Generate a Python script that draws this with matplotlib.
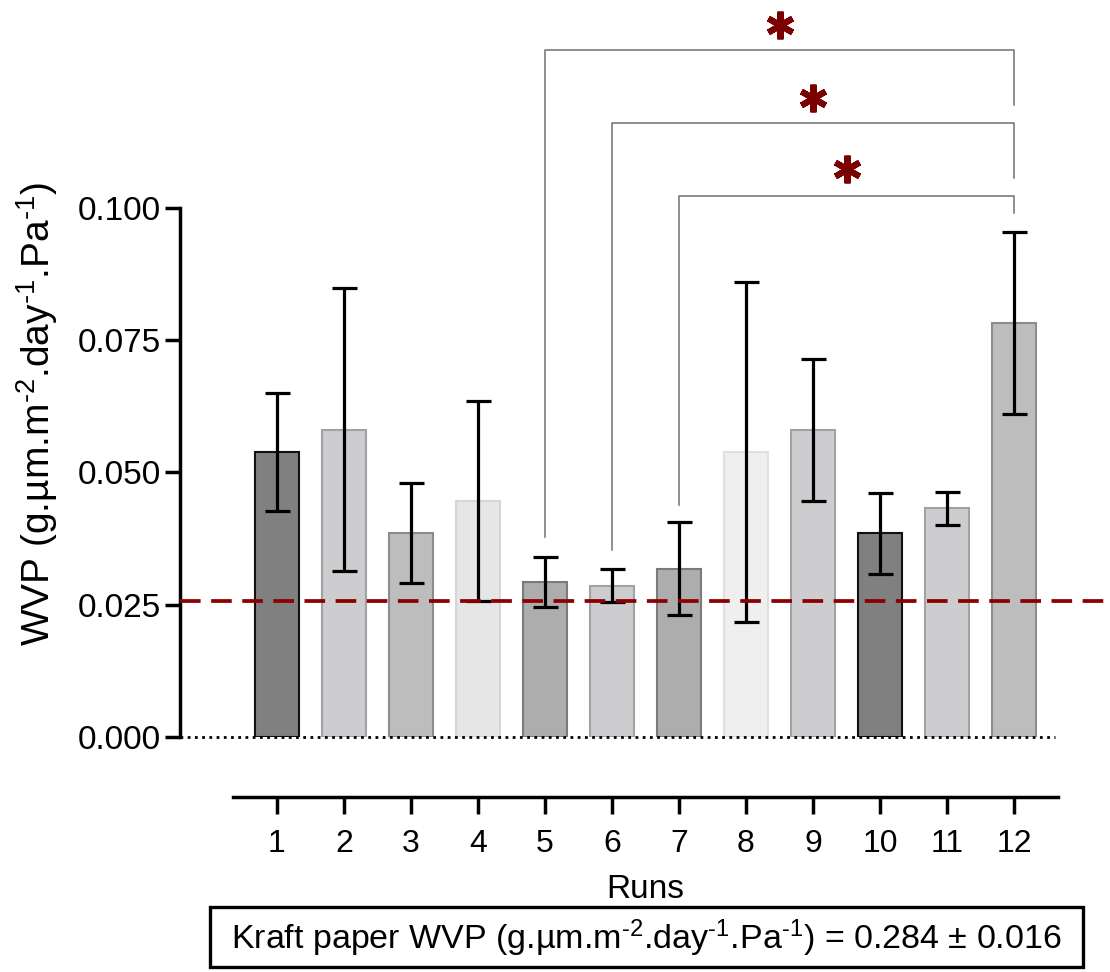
import matplotlib
matplotlib.use("Agg")
import matplotlib.pyplot as plt
from matplotlib.patches import Rectangle
import numpy as np

plt.rcParams['font.family'] = ['Liberation Sans', 'DejaVu Sans']
plt.rcParams['mathtext.fontset'] = 'custom'
plt.rcParams['mathtext.rm'] = 'Liberation Sans'
plt.rcParams['mathtext.it'] = 'Liberation Sans:italic'
plt.rcParams['mathtext.bf'] = 'Liberation Sans:bold'

# ---- data ----
runs = [1, 2, 3, 4, 5, 6, 7, 8, 9, 10, 11, 12]
run_labels = ["1", "2", "3", "4", "5", "6", "7", "8", "9", "10", "11", "12"]
wvp_mean = [0.0539, 0.0581, 0.0386, 0.0446, 0.0293, 0.0286, 0.0318, 0.0539, 0.0581, 0.0385, 0.0432, 0.0782]
wvp_err = [0.0111, 0.0268, 0.0094, 0.0189, 0.0048, 0.0031, 0.0088, 0.0322, 0.0134, 0.0076, 0.0032, 0.0172]
reference_wvp = 0.0258
comparisons = [(5, 12), (6, 12), (7, 12)]
comparison_marks = ["*", "*", "*"]
y_ticks = [0.000, 0.025, 0.050, 0.075, 0.100]
y_tick_labels = ["0.000", "0.025", "0.050", "0.075", "0.100"]

# ---- styles ----
fill_colors = ['#808080', '#cdcdcf', '#bdbdbd', '#e6e6e6', '#adadad', '#cdcdcf',
               '#adadad', '#efefef', '#cdcdcf', '#808080', '#cdcdcf', '#bdbdbd']
edge_colors = ['#111111', '#a2a2a4', '#8c8c8c', '#d6d6d6', '#7a7a7a', '#a2a2a4',
               '#7a7a7a', '#e0e0e0', '#a2a2a4', '#111111', '#a2a2a4', '#8c8c8c']
star_color = '#7b0000'

fig = plt.figure(figsize=(11.1, 9.72), dpi=100)
W, H = 1110, 972
ax = fig.add_axes([180 / W, (H - 737) / H, (W - 180) / W, 737 / H])

ppu_y = 5290.0  # pixels per unit
ax.set_ylim(0, 737 / ppu_y)
ax.set_xlim(1 + (180 - 277) / 67.0, 1 + (1110 - 277) / 67.0)

ax.bar(runs, wvp_mean, width=0.65, color=fill_colors, edgecolor=edge_colors,
       linewidth=1.5, zorder=2)
ax.errorbar(runs, wvp_mean, yerr=wvp_err, fmt='none', ecolor='black',
            elinewidth=2.3, capsize=9, capthick=2.3, zorder=3)

# baseline dotted line
ax.plot([ax.get_xlim()[0], 12.61], [0, 0], color='black', linestyle=(0, (1, 1.6)),
        linewidth=2.0, zorder=4, clip_on=False)

# reference dashed line
ax.axhline(reference_wvp, color='#8b0000', linestyle=(0, (5.5, 2.8)), linewidth=2.7,
           zorder=5)

# significance brackets
bracket_tops = [0.1299, 0.1161, 0.1023]
left_ends = [0.0378, 0.0354, 0.0439]
right_ends = [0.1195, 0.1057, 0.0990]
star_y = [0.1346, 0.1208, 0.1073]
for (a, b), mark, top, le, re_, sy in zip(comparisons, comparison_marks,
                                          bracket_tops, left_ends, right_ends, star_y):
    ax.plot([a, a, b, b], [le, top, top, re_], color='#707070', linewidth=1.1,
            zorder=3, clip_on=False)
    ax.plot([(a + b) / 2], [sy], marker=(6, 2, 0), markersize=20,
            markeredgewidth=4.4, color=star_color, clip_on=False, zorder=6)

# spines
for s in ['top', 'right']:
    ax.spines[s].set_visible(False)
ax.spines['left'].set_bounds(0, 0.1)
ax.spines['left'].set_linewidth(2.5)
ax.spines['bottom'].set_position(('outward', 43.2))
ax.spines['bottom'].set_bounds(1 + (233 - 277) / 67.0, 1 + (1058 - 277) / 67.0)
ax.spines['bottom'].set_linewidth(2.5)

ax.set_yticks(y_ticks)
ax.set_yticklabels(y_tick_labels)
ax.set_xticks(runs)
ax.set_xticklabels(run_labels)
ax.tick_params(axis='y', length=10.5, width=2.5, labelsize=24, pad=3)
ax.tick_params(axis='x', length=12, width=2.5, labelsize=23, pad=11)

ax.set_ylabel(r'WVP (g.µm.m$^{\text{-2}}$.day$^{\text{-1}}$.Pa$^{\text{-1}}$)', fontsize=28)
ax.yaxis.set_label_coords(-(180 - 60) / (W - 180), (737 - 414) / 737)
ax.set_xlabel('Runs', fontsize=24, labelpad=11)

# box with kraft paper value
fig.patches.append(Rectangle((210 / W, (H - 967) / H), (1083 - 210) / W, (967 - 907) / H,
                             transform=fig.transFigure, fill=False, edgecolor='black',
                             linewidth=2.4))
fig.text((210 + 1083) / 2 / W, (H - 938) / H,
         r'Kraft paper WVP (g.µm.m$^{\text{-2}}$.day$^{\text{-1}}$.Pa$^{\text{-1}}$) = 0.284 ± 0.016',
         ha='center', va='center', fontsize=24.5)

fig.savefig('out.png', dpi=100)
